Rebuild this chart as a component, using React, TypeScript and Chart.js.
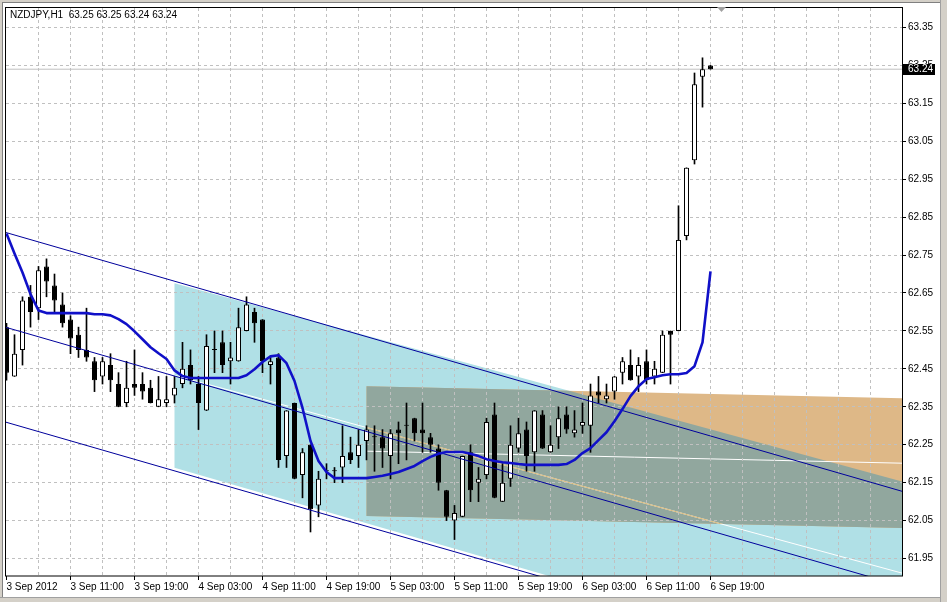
import React, { useEffect, useRef } from 'react';
import { Chart, registerables } from 'chart.js';

Chart.register(...registerables);

// ---------------- data ----------------
const chartTitle = 'NZDJPY,H1  63.25 63.25 63.24 63.24';

// one label every 8 hourly bars, starting with bar 0 (3 Sep 03:00)
const timeLabels = [
  '3 Sep 2012', '3 Sep 11:00', '3 Sep 19:00', '4 Sep 03:00', '4 Sep 11:00', '4 Sep 19:00',
  '5 Sep 03:00', '5 Sep 11:00', '5 Sep 19:00', '6 Sep 03:00', '6 Sep 11:00', '6 Sep 19:00',
];

const openP = [
  62.56, 62.43, 62.50, 62.64, 62.61, 62.72, 62.67, 62.62, 62.58, 62.54,
  62.50, 62.47, 62.43, 62.46, 62.41, 62.36, 62.41, 62.41, 62.40, 62.35,
  62.36, 62.38, 62.41, 62.46, 62.41, 62.34, 62.50, 62.52, 62.47, 62.47,
  62.55, 62.60, 62.58, 62.46, 62.48, 62.22, 62.36, 62.17, 62.25, 62.09,
  62.18, 62.18, 62.19, 62.23, 62.22, 62.26, 62.27, 62.27, 62.22, 62.29,
  62.30, 62.32, 62.29, 62.27, 62.24, 62.13, 62.05, 62.06, 62.23, 62.15,
  62.17, 62.33, 62.10, 62.16, 62.24, 62.29, 62.23, 62.33, 62.23, 62.27,
  62.33, 62.28, 62.30, 62.30, 62.39, 62.37, 62.39, 62.44, 62.46, 62.43,
  62.47, 62.43, 62.44, 62.55, 62.55, 62.80, 63.00, 63.22, 63.25,
];
const highP = [
  62.57, 62.54, 62.64, 62.67, 62.72, 62.74, 62.70, 62.65, 62.59, 62.56,
  62.61, 62.48, 62.48, 62.49, 62.44, 62.47, 62.50, 62.44, 62.42, 62.43,
  62.43, 62.43, 62.52, 62.50, 62.43, 62.54, 62.55, 62.55, 62.52, 62.61,
  62.64, 62.61, 62.58, 62.48, 62.49, 62.34, 62.36, 62.24, 62.25, 62.18,
  62.20, 62.19, 62.30, 62.27, 62.29, 62.30, 62.30, 62.29, 62.29, 62.31,
  62.36, 62.32, 62.36, 62.28, 62.25, 62.13, 62.09, 62.22, 62.25, 62.19,
  62.32, 62.36, 62.20, 62.30, 62.32, 62.31, 62.34, 62.34, 62.30, 62.35,
  62.35, 62.34, 62.36, 62.41, 62.43, 62.41, 62.43, 62.48, 62.50, 62.48,
  62.50, 62.47, 62.55, 62.55, 62.88, 62.98, 63.23, 63.27, 63.25,
];
const lowP = [
  62.42, 62.43, 62.46, 62.56, 62.58, 62.64, 62.60, 62.56, 62.49, 62.48,
  62.47, 62.39, 62.41, 62.39, 62.35, 62.35, 62.38, 62.37, 62.36, 62.35,
  62.35, 62.36, 62.40, 62.41, 62.29, 62.34, 62.44, 62.44, 62.41, 62.47,
  62.55, 62.52, 62.44, 62.41, 62.19, 62.19, 62.16, 62.11, 62.02, 62.06,
  62.16, 62.15, 62.15, 62.20, 62.19, 62.21, 62.18, 62.19, 62.16, 62.20,
  62.21, 62.26, 62.23, 62.23, 62.13, 62.05, 62.00, 62.06, 62.10, 62.10,
  62.16, 62.11, 62.10, 62.14, 62.23, 62.18, 62.18, 62.24, 62.23, 62.24,
  62.28, 62.27, 62.28, 62.23, 62.36, 62.36, 62.37, 62.41, 62.42, 62.39,
  62.41, 62.41, 62.44, 62.41, 62.55, 62.79, 62.99, 63.14, 63.24,
];
const closeP = [
  62.44, 62.49, 62.63, 62.60, 62.71, 62.68, 62.63, 62.57, 62.53, 62.50,
  62.48, 62.42, 62.47, 62.42, 62.35, 62.40, 62.40, 62.39, 62.36, 62.37,
  62.37, 62.40, 62.45, 62.42, 62.36, 62.51, 62.50, 62.46, 62.48, 62.56,
  62.62, 62.57, 62.47, 62.47, 62.21, 62.34, 62.16, 62.23, 62.08, 62.16,
  62.18, 62.18, 62.22, 62.21, 62.25, 62.29, 62.27, 62.24, 62.28, 62.28,
  62.30, 62.28, 62.28, 62.25, 62.15, 62.06, 62.07, 62.22, 62.13, 62.16,
  62.31, 62.11, 62.15, 62.25, 62.28, 62.22, 62.34, 62.24, 62.25, 62.32,
  62.29, 62.29, 62.31, 62.38, 62.38, 62.38, 62.43, 62.47, 62.42, 62.46,
  62.42, 62.45, 62.54, 62.54, 62.79, 62.98, 63.20, 63.24, 63.24,
];

// smoothed moving-average line (one value per bar)
const maValues = [
  62.807, 62.754, 62.704, 62.647, 62.604, 62.597, 62.597, 62.597, 62.597, 62.597,
  62.597, 62.594, 62.594, 62.591, 62.581, 62.568, 62.549, 62.528, 62.507, 62.491,
  62.476, 62.446, 62.431, 62.426, 62.426, 62.426, 62.426, 62.426, 62.426, 62.426,
  62.433, 62.449, 62.468, 62.483, 62.486, 62.465, 62.418, 62.347, 62.260, 62.207,
  62.178, 62.162, 62.162, 62.162, 62.162, 62.162, 62.165, 62.168, 62.173, 62.178,
  62.186, 62.194, 62.207, 62.218, 62.226, 62.231, 62.231, 62.231, 62.226, 62.220,
  62.212, 62.207, 62.204, 62.202, 62.199, 62.197, 62.197, 62.197, 62.197, 62.197,
  62.199, 62.210, 62.228, 62.241, 62.262, 62.283, 62.312, 62.344, 62.378, 62.404,
  62.423, 62.428, 62.433, 62.436, 62.436, 62.439, 62.457, 62.520, 62.707,
];

const bidPrice = 63.24;
const priceTicks = [
  61.95, 62.05, 62.15, 62.25, 62.35, 62.45, 62.55, 62.65, 62.75, 62.85, 62.95, 63.05, 63.15, 63.25, 63.35,
];

// linear regression channel (thin blue lines): upper line anchors + offsets of the three lines
const regBars = [0, 100];
const regUpper = [62.809, 62.2];
const regOffsets = [0, -0.25, -0.5];

// filled channel (light blue): upper edge, middle line, lower edge
const sdBars = [21, 100];
const sdUpper = [62.676, 62.222];
const sdMid = [62.433, 61.98];
const sdLower = [62.189, 61.708];

// filled short channel (grey / tan): middle line and half width
const gcBars = [45, 100];
const gcMid = [62.233, 62.207];
const gcHalf = 0.171;

// ---------------- helpers ----------------
const W = 947;
const H = 602;
const X_MIN = -0.0625;
const X_MAX = 111.9375;
const Y_MAX = 63.35 + 19.5 / 380;
const Y_MIN = Y_MAX - 569 / 380;
const FONT = "'Liberation Sans', Arial, sans-serif";
const FONT_SIZE = 10;

const lineAt = (bars: number[], vals: number[], b: number) =>
  vals[0] + ((vals[1] - vals[0]) * (b - bars[0])) / (bars[1] - bars[0]);

const gridBars: number[] = [];
for (let b = 0; b <= X_MAX; b += 4) gridBars.push(b);

const labelForBar = (v: number) => {
  if (v % 8 !== 0) return '';
  const k = v / 8;
  return k < timeLabels.length ? timeLabels[k] : '';
};

const bars = openP.map((_, i) => i);

const overlayPlugin = {
  id: 'mt4Overlay',
  beforeDraw(chart: any) {
    const { ctx, chartArea: a, scales } = chart;
    const xs = scales.x;
    const ys = scales.y;
    const px = (b: number) => xs.getPixelForValue(b);
    const py = (p: number) => ys.getPixelForValue(p);
    ctx.save();
    // window
    ctx.fillStyle = '#ffffff';
    ctx.fillRect(0, 0, W, H);
    ctx.fillStyle = '#d4d0c8';
    ctx.fillRect(0, 0, W, 3);
    ctx.fillRect(0, 0, 3, H);
    ctx.fillRect(940, 0, W - 940, H);
    ctx.fillRect(0, 597, W, H - 597);
    ctx.fillStyle = '#808080';
    ctx.fillRect(2, 2, 938, 1);
    ctx.fillRect(2, 2, 1, 595);
    ctx.fillStyle = '#a0a0a0';
    ctx.fillRect(940, 0, 1, H);
    ctx.fillRect(0, 597, 941, 1);

    ctx.beginPath();
    ctx.rect(a.left, a.top, a.right - a.left, a.bottom - a.top);
    ctx.clip();

    const xEnd = xs.max + 1;
    const band = (bb: number[], up: number[], lo: number[]) => {
      const s = bb[0];
      return [
        [px(s), py(lineAt(bb, up, s))],
        [px(xEnd), py(lineAt(bb, up, xEnd))],
        [px(xEnd), py(lineAt(bb, lo, xEnd))],
        [px(s), py(lineAt(bb, lo, s))],
      ];
    };
    const pathPoly = (pts: number[][]) => {
      ctx.beginPath();
      pts.forEach((p, i) => (i ? ctx.lineTo(p[0], p[1]) : ctx.moveTo(p[0], p[1])));
      ctx.closePath();
    };
    const sdPoly = band(sdBars, sdUpper, sdLower);
    const gcPoly = band(
      gcBars,
      gcMid.map((v) => v + gcHalf),
      gcMid.map((v) => v - gcHalf),
    );

    pathPoly(sdPoly);
    ctx.fillStyle = '#b0e0e6';
    ctx.fill();
    pathPoly(gcPoly);
    ctx.fillStyle = '#deb887';
    ctx.fill();

    ctx.save();
    pathPoly(sdPoly);
    ctx.clip();
    pathPoly(gcPoly);
    ctx.fillStyle = '#91a79e';
    ctx.fill();
    ctx.restore();

    const strokeMid = (bb: number[], mid: number[], color: string) => {
      ctx.beginPath();
      ctx.moveTo(px(bb[0]), py(lineAt(bb, mid, bb[0])));
      ctx.lineTo(px(xEnd), py(lineAt(bb, mid, xEnd)));
      ctx.strokeStyle = color;
      ctx.lineWidth = 1;
      ctx.stroke();
    };
    strokeMid(sdBars, sdMid, '#ffffff');
    ctx.save();
    pathPoly(gcPoly);
    ctx.clip();
    strokeMid(sdBars, sdMid, '#d8b878');
    ctx.restore();
    strokeMid(gcBars, gcMid, '#ffffff');
    ctx.restore();
  },
  afterDraw(chart: any) {
    const { ctx, chartArea: a, scales } = chart;
    const ys = scales.y;
    ctx.save();
    // chart frame
    ctx.strokeStyle = '#000000';
    ctx.lineWidth = 1;
    ctx.strokeRect(a.left - 0.5, a.top - 0.5, a.right - a.left + 1, a.bottom - a.top + 0.5);
    // header
    ctx.fillStyle = '#000000';
    ctx.font = `${FONT_SIZE}px ${FONT}`;
    ctx.textBaseline = 'alphabetic';
    ctx.textAlign = 'left';
    ctx.fillText(chartTitle, 10, 18);
    // bid price box
    const by = ys.getPixelForValue(bidPrice);
    ctx.fillStyle = '#000000';
    ctx.fillRect(a.right + 1, Math.round(by) - 5, 32, 11);
    ctx.fillStyle = '#ffffff';
    ctx.textBaseline = 'middle';
    ctx.fillText(bidPrice.toFixed(2), a.right + 6, Math.round(by) + 0.5);
    // chart shift marker
    ctx.fillStyle = '#a0a0a0';
    ctx.beginPath();
    ctx.moveTo(717, 7);
    ctx.lineTo(726, 7);
    ctx.lineTo(721.5, 12);
    ctx.closePath();
    ctx.fill();
    ctx.restore();
  },
};

export default function App() {
  const ref = useRef<HTMLCanvasElement>(null);
  useEffect(() => {
    if (!ref.current) return;
    const regLine = (off: number) => [
      { x: X_MIN - 2, y: lineAt(regBars, regUpper, X_MIN - 2) + off },
      { x: X_MAX + 2, y: lineAt(regBars, regUpper, X_MAX + 2) + off },
    ];
    const chart = new Chart(ref.current, {
      type: 'bar',
      data: {
        datasets: [
          {
            type: 'line',
            data: [
              { x: X_MIN - 2, y: bidPrice },
              { x: X_MAX + 2, y: bidPrice },
            ],
            borderColor: '#c0c0c0',
            borderWidth: 1,
            pointRadius: 0,
            order: 10,
            clip: 0,
          } as any,
          {
            type: 'bar',
            data: bars.map((i) => ({ x: i, y: [lowP[i], highP[i]] })),
            backgroundColor: '#000000',
            borderWidth: 0,
            grouped: false,
            categoryPercentage: 1,
            barPercentage: 1,
            maxBarThickness: 1,
            order: 9,
            clip: 0,
          } as any,
          {
            type: 'bar',
            data: bars.map((i) => ({ x: i, y: [openP[i], closeP[i]] })),
            backgroundColor: bars.map((i) => (closeP[i] > openP[i] ? '#ffffff' : '#000000')),
            borderColor: '#000000',
            borderWidth: 1,
            borderSkipped: false,
            minBarLength: 1,
            grouped: false,
            categoryPercentage: 1,
            barPercentage: 0.625,
            order: 8,
            clip: 0,
          } as any,
          ...regOffsets.map(
            (off) =>
              ({
                type: 'line',
                data: regLine(off),
                borderColor: '#00009c',
                borderWidth: 1,
                pointRadius: 0,
                order: 5,
                clip: 0,
              }) as any,
          ),
          {
            type: 'line',
            data: bars.map((i) => ({ x: i, y: maValues[i] })),
            borderColor: '#1010c8',
            borderWidth: 2.6,
            pointRadius: 0,
            tension: 0,
            borderJoinStyle: 'round',
            order: 1,
            clip: 0,
          } as any,
        ],
      },
      options: {
        animation: false,
        responsive: false,
        devicePixelRatio: 1,
        events: [],
        layout: { padding: { left: 6, right: 7, top: 7, bottom: 6 } },
        plugins: {
          legend: { display: false },
          tooltip: { enabled: false },
          title: { display: false },
        },
        scales: {
          x: {
            type: 'linear',
            min: X_MIN,
            max: X_MAX,
            bounds: 'data',
            offset: false,
            afterBuildTicks: (s: any) => {
              s.ticks = gridBars.map((v) => ({ value: v }));
            },
            afterFit: (s: any) => {
              s.height = 20;
            },
            grid: {
              offset: false,
              lineWidth: 1,
              color: (c: any) => (c.tick && c.tick.value === 0 ? 'rgba(0,0,0,0)' : '#c0c0c0'),
              drawTicks: true,
              tickLength: 4,
              tickBorderDash: [],
              tickColor: (c: any) => (c.tick && labelForBar(c.tick.value) ? '#000000' : 'rgba(0,0,0,0)'),
            },
            border: { display: false, dash: [3, 3] },
            ticks: {
              autoSkip: false,
              maxRotation: 0,
              minRotation: 0,
              align: 'start',
              padding: 1,
              color: '#000000',
              font: { family: FONT, size: FONT_SIZE },
              callback: (v: any) => labelForBar(Number(v)),
            },
          },
          y: {
            type: 'linear',
            position: 'right',
            min: Y_MIN,
            max: Y_MAX,
            bounds: 'data',
            afterBuildTicks: (s: any) => {
              s.ticks = priceTicks.map((v) => ({ value: v }));
            },
            afterFit: (s: any) => {
              s.width = 38;
            },
            grid: {
              lineWidth: 1,
              color: '#c0c0c0',
              drawTicks: true,
              tickLength: 4,
              tickBorderDash: [],
              tickColor: '#000000',
            },
            border: { display: false, dash: [3, 3] },
            ticks: {
              padding: 2,
              color: '#000000',
              font: { family: FONT, size: FONT_SIZE },
              callback: (v: any) => Number(v).toFixed(2),
            },
          },
        },
      } as any,
      plugins: [overlayPlugin],
    });
    return () => chart.destroy();
  }, []);
  return (
    <div style={{ position: 'fixed', left: 0, top: 0, width: W, height: H, background: '#ffffff' }}>
      <canvas ref={ref} width={W} height={H} style={{ display: 'block', width: W, height: H }} />
    </div>
  );
}
